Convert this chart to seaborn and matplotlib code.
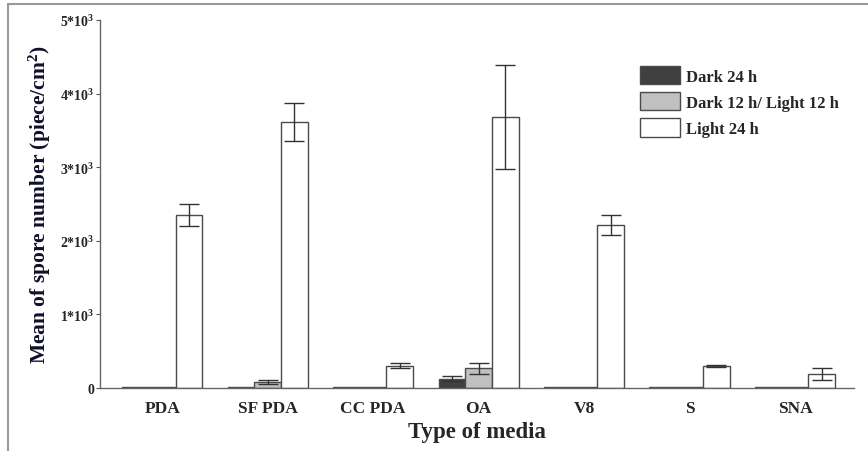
import matplotlib
matplotlib.use('Agg')
import matplotlib.pyplot as plt
import pandas as pd
import seaborn as sns
from matplotlib.lines import Line2D

media = ['PDA', 'SF PDA', 'CC PDA', 'OA', 'V8', 'S', 'SNA']
conditions = ['Dark 24 h', 'Dark 12 h/ Light 12 h', 'Light 24 h']

dark24 = [8, 8, 8, 125, 8, 8, 8]
dark24_err = [0, 0, 0, 35, 0, 0, 0]
dark12 = [8, 85, 8, 265, 8, 8, 8]
dark12_err = [0, 30, 0, 75, 0, 0, 0]
light24 = [2350, 3615, 305, 3680, 2220, 295, 190]
light24_err = [150, 260, 35, 705, 137, 15, 80]

rows = []
for cond, vals, errs in zip(conditions, [dark24, dark12, light24],
                            [dark24_err, dark12_err, light24_err]):
    for m, v, e in zip(media, vals, errs):
        rows.append({'media': m, 'cond': cond, 'spores': v, 'err': e})
df = pd.DataFrame(rows)

sns.set_style('white')
plt.rcParams['font.family'] = ['Liberation Serif', 'DejaVu Serif']
plt.rcParams['mathtext.fontset'] = 'custom'
plt.rcParams['mathtext.rm'] = 'Liberation Serif:bold'
plt.rcParams['mathtext.bf'] = 'Liberation Serif:bold'
plt.rcParams['mathtext.it'] = 'Liberation Serif:bold'

fig = plt.figure(figsize=(8.68, 4.52), dpi=100)
ax = fig.add_axes([0.1152, 0.1394, 0.8687, 0.8141])

pal = {'Dark 24 h': '#404040', 'Dark 12 h/ Light 12 h': '#c0c0c0', 'Light 24 h': '#ffffff'}
sns.barplot(data=df, x='media', y='spores', hue='cond', hue_order=conditions,
            order=media, palette=pal, errorbar=None, width=0.76,
            edgecolor='#4a4a4a', linewidth=1.0, ax=ax)

# error bars from the data
for cont, cond in zip(ax.containers, conditions):
    sub = df[df.cond == cond].set_index('media').loc[media]
    for bar, v, e in zip(cont, sub.spores, sub.err):
        if e > 0:
            xc = bar.get_x() + bar.get_width() / 2
            ax.errorbar(xc, v, yerr=e, color='#333333', capsize=7,
                        elinewidth=1, capthick=1)

ax.set_xlim(-0.59, 6.56)
ax.set_ylim(0, 5000)
ax.set_yticks([0, 1000, 2000, 3000, 4000, 5000])
ax.set_yticklabels(['0', '1*10$^3$', '2*10$^3$', '3*10$^3$', '4*10$^3$', '5*10$^3$'],
                   fontsize=10, fontweight='bold')
ax.tick_params(axis='y', length=3, width=0.8, color='#555555', pad=1, left=True)
ax.tick_params(axis='x', length=0, pad=9)
for lab in ax.get_xticklabels():
    lab.set_fontsize(12.5)
    lab.set_fontweight('bold')

sns.despine(ax=ax)
for s in ['left', 'bottom']:
    ax.spines[s].set_color('#666666')
    ax.spines[s].set_linewidth(1)

ax.set_xlabel('Type of media', fontsize=16.5, fontweight='bold', labelpad=3)
ax.set_ylabel('Mean of spore number (piece/cm$^2$)', fontsize=15.5,
              fontweight='bold', color='#10102a', labelpad=5)

leg = ax.legend(loc='upper left', bbox_to_anchor=(0.716, 0.875), frameon=False,
                prop={'size': 12, 'weight': 'bold'}, handlelength=2.4,
                handleheight=1.3, labelspacing=0.45, handletextpad=0.35,
                borderpad=0, borderaxespad=0)

# outer frame lines of the picture
fig.add_artist(Line2D([8 / 868, 1], [1 - 5 / 452, 1 - 5 / 452], color='#999999', lw=1.5))
fig.add_artist(Line2D([8 / 868, 8 / 868], [0, 1 - 5 / 452], color='#999999', lw=1.5))

plt.savefig('out.png', dpi=100)
